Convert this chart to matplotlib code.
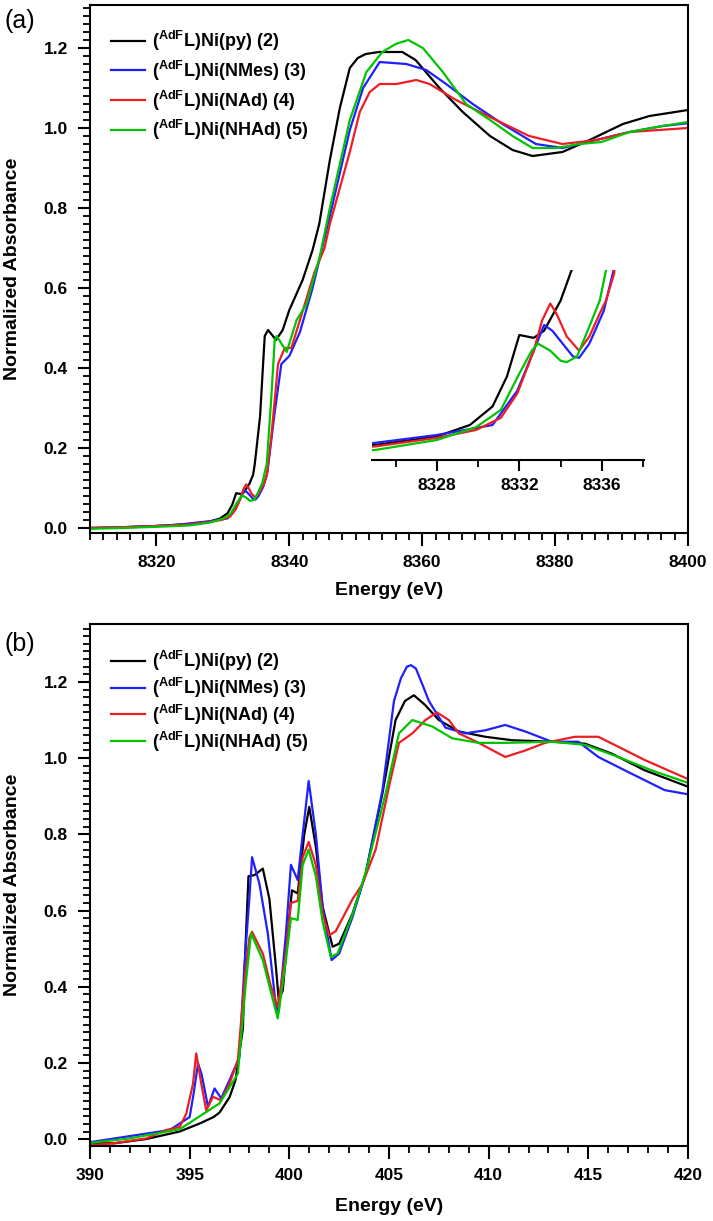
import matplotlib
matplotlib.use("Agg")
import matplotlib.pyplot as plt
from matplotlib.ticker import MultipleLocator

plt.rcParams['font.family'] = ['Liberation Sans', 'DejaVu Sans']
plt.rcParams['font.weight'] = 'bold'
plt.rcParams['mathtext.fontset'] = 'custom'
plt.rcParams['mathtext.rm'] = 'Liberation Sans:bold'
plt.rcParams['mathtext.it'] = 'Liberation Sans:bold'
plt.rcParams['mathtext.bf'] = 'Liberation Sans:bold'

labels = [r'($^{AdF}$L)Ni(py) (2)', r'($^{AdF}$L)Ni(NMes) (3)',
          r'($^{AdF}$L)Ni(NAd) (4)', r'($^{AdF}$L)Ni(NHAd) (5)']
colors = ['black', '#1f1fff', '#ee1c24', '#00c400']

# (a) Ni K-edge
a_py_e = [8310, 8315, 8320, 8323, 8325, 8328, 8329.6, 8330.7, 8331.4, 8332.0, 8332.7, 8333.2, 8334.0, 8334.55,
          8334.8, 8335.6, 8336.05, 8336.3, 8336.8, 8338.0, 8339.0, 8340.0, 8342.0, 8343.5, 8344.5, 8346.1, 8347.6,
          8349.1, 8350.3, 8351.5, 8353.5, 8357.0, 8359.0, 8362.6, 8366.1, 8370.2, 8373.6, 8376.6, 8381.1, 8385.2,
          8390.2, 8394.2, 8400]
a_py_v = [0.000, 0.002, 0.005, 0.008, 0.010, 0.016, 0.024, 0.037, 0.058, 0.087, 0.085, 0.090, 0.111, 0.133,
          0.16, 0.28, 0.41, 0.48, 0.495, 0.47, 0.495, 0.545, 0.62, 0.695, 0.76, 0.92, 1.05,
          1.15, 1.175, 1.185, 1.19, 1.19, 1.17, 1.10, 1.04, 0.98, 0.945, 0.93, 0.94, 0.97,
          1.01, 1.03, 1.045]

a_nmes_e = [8310, 8315, 8320, 8323, 8325, 8328, 8330.7, 8331.9, 8332.7, 8333.2, 8333.6, 8334.1, 8334.6, 8334.9,
            8335.4, 8336.1, 8336.7, 8337.8, 8338.8, 8340.0, 8341.6, 8343.5, 8344.8, 8346.1, 8349.1, 8351.1,
            8353.6, 8357.6, 8360.6, 8363.6, 8367.6, 8372.1, 8377.1, 8381.1, 8386.2, 8391.2, 8396.2, 8400]
a_nmes_v = [0.000, 0.002, 0.005, 0.008, 0.0115, 0.017, 0.024, 0.048, 0.076, 0.094, 0.090, 0.081, 0.072, 0.071,
            0.081, 0.104, 0.14, 0.29, 0.41, 0.43, 0.49, 0.60, 0.69, 0.78, 0.995, 1.10,
            1.165, 1.16, 1.145, 1.11, 1.06, 1.01, 0.96, 0.95, 0.97, 0.99, 1.005, 1.012]

a_nad_e = [8310, 8315, 8320, 8323, 8325, 8328, 8329.9, 8331.1, 8331.9, 8332.7, 8333.1, 8333.5, 8333.8, 8334.3,
           8334.9, 8335.4, 8335.9, 8336.2, 8336.6, 8337.3, 8338.3, 8339.3, 8340.3, 8341.6, 8343.8, 8345.3,
           8346.1, 8349.1, 8350.6, 8352.1, 8353.6, 8356.1, 8359.1, 8361.1, 8365.1, 8371.1, 8376.1, 8381.1,
           8386.2, 8391.2, 8400]
a_nad_v = [0.000, 0.002, 0.005, 0.007, 0.009, 0.015, 0.0205, 0.029, 0.046, 0.076, 0.097, 0.109, 0.102, 0.086,
           0.076, 0.086, 0.102, 0.111, 0.13, 0.23, 0.41, 0.45, 0.45, 0.52, 0.64, 0.70,
           0.76, 0.94, 1.04, 1.09, 1.11, 1.11, 1.12, 1.11, 1.07, 1.02, 0.98, 0.96,
           0.97, 0.99, 1.00]

a_nhad_e = [8310, 8315, 8320, 8323, 8325, 8328, 8329.9, 8331.1, 8332.0, 8332.6, 8332.9, 8333.5, 8334.0, 8334.3,
            8334.8, 8335.4, 8335.9, 8336.6, 8337.3, 8337.8, 8338.1, 8339.6, 8341.1, 8342.6, 8344.6, 8346.1,
            8349.1, 8351.6, 8354.0, 8356.0, 8357.9, 8360.1, 8363.1, 8366.6, 8370.2, 8373.6, 8376.6, 8380.2,
            8383.7, 8387.0, 8391.2, 8396.2, 8400]
a_nhad_v = [-0.002, 0.000, 0.003, 0.005, 0.0065, 0.0135, 0.0225, 0.0345, 0.060, 0.076, 0.081, 0.076, 0.069, 0.068,
            0.072, 0.093, 0.111, 0.16, 0.33, 0.47, 0.48, 0.44, 0.52, 0.56, 0.68, 0.80,
            1.02, 1.14, 1.19, 1.21, 1.22, 1.20, 1.14, 1.06, 1.02, 0.98, 0.95, 0.95,
            0.96, 0.965, 0.99, 1.005, 1.015]

# (b) N K-edge
b_py_e = [390, 391.2, 392.8, 394.5, 395.5, 396.2, 396.5, 397.0, 397.3, 397.67, 397.8, 397.95, 398.25, 398.67,
          399.0, 399.33, 399.47, 399.67, 399.92, 400.13, 400.42, 400.75, 401.0, 401.33, 401.67, 402.17, 402.5,
          403.17, 403.83, 404.67, 405.33, 405.8, 406.25, 406.8, 407.5, 408.5, 409.83, 411.17, 413.17, 414.83,
          416.17, 417.83, 420]
b_py_v = [-0.01, -0.011, 0.0, 0.02, 0.041, 0.058, 0.07, 0.11, 0.155, 0.29, 0.505, 0.69, 0.693, 0.71,
          0.63, 0.45, 0.365, 0.39, 0.54, 0.653, 0.645, 0.80, 0.872, 0.767, 0.61, 0.505, 0.513,
          0.592, 0.697, 0.907, 1.10, 1.15, 1.165, 1.14, 1.10, 1.07, 1.056, 1.047, 1.043, 1.038,
          1.012, 0.968, 0.925]

b_nmes_e = [390, 392, 394, 395.0, 395.2, 395.42, 395.6, 395.92, 396.25, 396.58, 397.0, 397.5, 397.75, 398.0,
            398.13, 398.5, 398.92, 399.33, 399.47, 399.83, 400.08, 400.42, 400.67, 400.97, 401.33, 401.67,
            402.12, 402.5, 403.17, 403.83, 404.67, 405.25, 405.6, 405.9, 406.1, 406.35, 406.7, 407.0, 407.83,
            408.83, 409.83, 410.83, 411.83, 413.17, 414.5, 415.5, 416.83, 418.83, 420]
b_nmes_v = [-0.008, 0.008, 0.024, 0.058, 0.12, 0.199, 0.17, 0.085, 0.133, 0.107, 0.155, 0.216, 0.46, 0.636,
            0.74, 0.67, 0.54, 0.347, 0.334, 0.54, 0.72, 0.68, 0.80, 0.94, 0.80, 0.61,
            0.47, 0.487, 0.583, 0.697, 0.915, 1.15, 1.21, 1.24, 1.244, 1.235, 1.19, 1.15, 1.08,
            1.065, 1.073, 1.087, 1.07, 1.043, 1.043, 1.003, 0.968, 0.916, 0.905]

b_nad_e = [390, 391.17, 392.83, 393.83, 394.5, 394.83, 395.17, 395.33, 395.58, 395.83, 396.17, 396.58, 397.0,
           397.42, 397.75, 398.0, 398.13, 398.67, 399.08, 399.42, 399.83, 400.08, 400.42, 400.67, 400.97,
           401.33, 401.67, 402.0, 402.33, 403.17, 403.67, 404.33, 405.0, 405.5, 406.17, 406.83, 407.4, 408.0,
           408.5, 409.5, 410.83, 411.83, 412.83, 414.33, 415.5, 416.5, 417.83, 420]
b_nad_v = [-0.016, -0.011, 0.002, 0.024, 0.032, 0.067, 0.146, 0.225, 0.146, 0.076, 0.111, 0.102, 0.146,
           0.207, 0.417, 0.53, 0.544, 0.487, 0.40, 0.347, 0.49, 0.62, 0.625, 0.74, 0.78,
           0.72, 0.59, 0.535, 0.546, 0.63, 0.67, 0.76, 0.925, 1.04, 1.065, 1.10, 1.12, 1.10,
           1.065, 1.04, 1.003, 1.02, 1.04, 1.056, 1.056, 1.03, 0.995, 0.945]

b_nhad_e = [390, 392, 394.5, 396.5, 397.42, 397.83, 398.08, 398.67, 399.08, 399.42, 399.83, 400.08, 400.42,
            400.67, 400.97, 401.33, 401.67, 402.08, 402.42, 403.17, 403.83, 404.83, 405.5, 406.17, 407.17,
            408.17, 409.5, 410.83, 413.17, 414.83, 416.5, 418.17, 420]
b_nhad_v = [-0.01, 0.002, 0.026, 0.094, 0.172, 0.417, 0.54, 0.47, 0.385, 0.317, 0.47, 0.58, 0.575,
            0.72, 0.76, 0.69, 0.57, 0.478, 0.487, 0.59, 0.70, 0.907, 1.065, 1.10, 1.083,
            1.052, 1.04, 1.04, 1.043, 1.035, 1.003, 0.968, 0.935]

a_series = [(a_py_e, a_py_v), (a_nmes_e, a_nmes_v), (a_nad_e, a_nad_v), (a_nhad_e, a_nhad_v)]
b_series = [(b_py_e, b_py_v), (b_nmes_e, b_nmes_v), (b_nad_e, b_nad_v), (b_nhad_e, b_nhad_v)]

W, H = 713, 1221
fig = plt.figure(figsize=(W / 100, H / 100), dpi=100)


def px_axes(left, top, right, bottom):
    return fig.add_axes([left / W, 1 - bottom / H, (right - left) / W, (bottom - top) / H])


def style_axes(ax, xmajor, xminor):
    for s in ax.spines.values():
        s.set_linewidth(1.5)
    ax.xaxis.set_major_locator(MultipleLocator(xmajor))
    ax.xaxis.set_minor_locator(MultipleLocator(xminor))
    ax.yaxis.set_major_locator(MultipleLocator(0.2))
    ax.yaxis.set_minor_locator(MultipleLocator(0.02))
    ax.tick_params(which='major', direction='out', length=9, width=1.5, labelsize=12.5, pad=7,
                   top=False, right=False)
    ax.tick_params(which='minor', direction='out', length=5, width=1.3, top=False, right=False)
    ax.yaxis.set_major_formatter(matplotlib.ticker.FormatStrFormatter('%.1f'))
    ax.set_xlabel('Energy (eV)', fontsize=14, fontweight='bold')
    ax.set_ylabel('Normalized Absorbance', fontsize=14, fontweight='bold')
    ax.yaxis.set_label_coords(-0.115, 0.5)


# panel (a)
ax1 = px_axes(90, 5, 688, 533)
for (e, v), c, lab in zip(a_series, colors, labels):
    ax1.plot(e, v, color=c, lw=1.6, label=lab)
ax1.set_xlim(8310, 8400)
ax1.set_ylim(-0.0125, 1.3075)
style_axes(ax1, 20, 2)
ax1.xaxis.set_label_coords(0.5, -0.093)
ax1.legend(loc='upper left', bbox_to_anchor=(0.035, 0.955), frameon=False, fontsize=13,
           handlelength=1.9, handletextpad=0.4, labelspacing=0.32, borderpad=0, borderaxespad=0)

# inset of the pre-edge
axi = px_axes(372, 270, 644, 460)
for (e, v), c in zip(a_series, colors):
    axi.plot(e, v, color=c, lw=1.6)
axi.set_xlim(8324.85, 8338.05)
axi.set_ylim(-0.0005, 0.1325)
for side in ['top', 'right', 'left']:
    axi.spines[side].set_visible(False)
axi.spines['bottom'].set_linewidth(1.5)
axi.patch.set_alpha(0)
axi.set_yticks([])
axi.xaxis.set_minor_locator(matplotlib.ticker.FixedLocator([8326, 8330, 8334, 8338]))
axi.set_xticks([8328, 8332, 8336])
axi.tick_params(which='major', direction='out', length=8, width=1.5, labelsize=12.5, pad=5)
axi.tick_params(which='minor', direction='out', length=5, width=1.3)

# panel (b)
ax2 = px_axes(90, 624, 688, 1146)
for (e, v), c, lab in zip(b_series, colors, labels):
    ax2.plot(e, v, color=c, lw=1.6, label=lab)
ax2.set_xlim(390, 420)
ax2.set_ylim(-0.018, 1.352)
style_axes(ax2, 5, 1)
ax2.xaxis.set_label_coords(0.5, -0.1)
ax2.legend(loc='upper left', bbox_to_anchor=(0.035, 0.952), frameon=False, fontsize=13,
           handlelength=1.9, handletextpad=0.4, labelspacing=0.15, borderpad=0, borderaxespad=0)

fig.text(4 / W, 1 - 21 / H, '(a)', fontsize=18, fontweight='normal', va='center', ha='left')
fig.text(4 / W, 1 - 644 / H, '(b)', fontsize=18, fontweight='normal', va='center', ha='left')

fig.savefig('out.png', dpi=100)
